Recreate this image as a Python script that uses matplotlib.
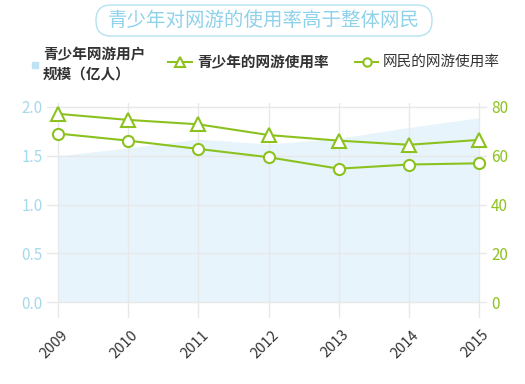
import matplotlib
matplotlib.use('Agg')
import matplotlib.pyplot as plt
from matplotlib.lines import Line2D
from matplotlib.patches import FancyBboxPatch
import matplotlib.transforms as mtransforms

plt.rcParams['font.family'] = ['Noto Sans CJK SC', 'DejaVu Sans']

# data
years = [2009, 2010, 2011, 2012, 2013, 2014, 2015]
youth_users = [1.50, 1.58, 1.67, 1.62, 1.68, 1.79, 1.89]      # 亿人
youth_rate = [77.2, 74.7, 72.9, 68.5, 66.2, 64.5, 66.5]        # %
netizen_rate = [69.1, 66.2, 62.8, 59.4, 54.7, 56.4, 56.9]      # %

title = '青少年对网游的使用率高于整体网民'
label_users = '青少年网游用户\n规模（亿人）'
label_youth = '青少年的网游使用率'
label_net = '网民的网游使用率'

green = '#8cc21f'
blue_txt = '#a6d9ec'
fill_col = '#e8f4fb'
grid_col = '#e6e8ea'
dark = '#333333'

W, H = 525, 384
fig = plt.figure(figsize=(W / 100, H / 100), dpi=100)

def fx(px):
    return px / W

def fy(py):
    return 1 - py / H

ax = fig.add_axes([fx(47), fy(318), fx(487) - fx(47), fy(103) - fy(318)])
ax.fill_between(years, 0, youth_users, color=fill_col, lw=0)
ax.set_xlim(2008.843, 2015.114)
ax.set_ylim(-0.164, 2.041)
ax.set_yticks([0, 0.5, 1.0, 1.5, 2.0])
ax.set_yticklabels(['0.0', '0.5', '1.0', '1.5', '2.0'])
ax.set_xticks(years)
ax.set_xticklabels([str(y) for y in years])
ax.grid(True, color=grid_col, lw=1)
ax.tick_params(axis='y', length=0, pad=3, labelsize=11, labelcolor=blue_txt)
ax.tick_params(axis='x', length=0, pad=7, labelsize=10.5, labelcolor=dark)
for lab in ax.get_xticklabels():
    lab.set_rotation(45)
    lab.set_ha('right')
    lab.set_va('top')
    lab.set_rotation_mode('anchor')
    lab.set_transform(lab.get_transform() + mtransforms.ScaledTranslation(3 / 100, 0, fig.dpi_scale_trans))
for s in ax.spines.values():
    s.set_visible(False)

ax2 = ax.twinx()
ax2.set_ylim(-0.164 * 40, 2.041 * 40)
ax2.set_yticks([0, 20, 40, 60, 80])
ax2.plot(years, youth_rate, color=green, lw=1.5, marker='^', ms=10,
         mfc='white', mec=green, mew=1.5)
ax2.plot(years, netizen_rate, color=green, lw=1.5, marker='o', ms=8,
         mfc='white', mec=green, mew=1.5)
ax2.tick_params(axis='y', length=0, pad=3, labelsize=11, labelcolor=green)
for s in ax2.spines.values():
    s.set_visible(False)

# title in rounded box (pixel coords)
box = FancyBboxPatch((96, H - 36), 336, 31, boxstyle='round,pad=0,rounding_size=15',
                     fc='white', ec='#b5e2f0', lw=1,
                     transform=mtransforms.IdentityTransform())
fig.add_artist(box)
fig.text(fx(264), fy(20), title, ha='center', va='center', fontsize=14,
         color='#8fd2ea')

# legend
fig.add_artist(Line2D([fx(35)], [fy(65)], transform=fig.transFigure, marker='s',
                      ms=4, color='#bfe3f3', ls='none'))
fig.text(fx(43), fy(64), label_users, ha='left', va='center', fontsize=10.5,
         fontweight='bold', color=dark, linespacing=1.3)
fig.add_artist(Line2D([fx(168), fx(192)], [fy(62), fy(62)], transform=fig.transFigure,
                      color=green, lw=1.5))
fig.add_artist(Line2D([fx(180)], [fy(62)], transform=fig.transFigure, marker='^',
                      ms=7, mfc='white', mec=green, mew=1.5, ls='none'))
fig.text(fx(197), fy(62), label_youth, ha='left', va='center', fontsize=10.5,
         fontweight='bold', color=dark)
fig.add_artist(Line2D([fx(355), fx(378)], [fy(62), fy(62)], transform=fig.transFigure,
                      color=green, lw=1.5))
fig.add_artist(Line2D([fx(366.5)], [fy(62)], transform=fig.transFigure, marker='o',
                      ms=6, mfc='white', mec=green, mew=1.5, ls='none'))
fig.text(fx(383), fy(62), label_net, ha='left', va='center', fontsize=10.5,
         color=dark)

fig.savefig('out.png', dpi=100)
